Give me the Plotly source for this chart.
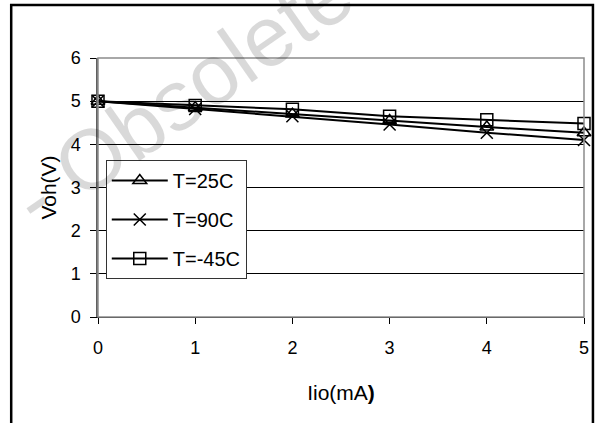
import plotly.graph_objects as go

# --- data ---
iio_ma = [0, 1, 2, 3, 4, 5]
voh_25c = [5.0, 4.85, 4.70, 4.55, 4.40, 4.27]
voh_90c = [5.0, 4.82, 4.65, 4.46, 4.27, 4.10]
voh_m45c = [5.0, 4.90, 4.81, 4.65, 4.57, 4.48]

series_names = ["T=25C", "T=90C", "T=-45C"]
series_symbols = ["triangle-up-open", "x-thin-open", "square-open"]
y_ticks = [0, 1, 2, 3, 4, 5, 6]
x_ticks = [0, 1, 2, 3, 4, 5]

FONT = "Liberation Sans, Arial, sans-serif"

fig = go.Figure()
for name, ys, sym in zip(series_names, [voh_25c, voh_90c, voh_m45c], series_symbols):
    fig.add_trace(go.Scatter(
        x=iio_ma, y=ys, name=name, mode="lines+markers",
        legendgroup=name,
        line=dict(color="black", width=2),
        marker=dict(symbol=sym, size=12, color="black",
                    line=dict(color="black", width=1.5)),
        cliponaxis=False,
    ))

fig.update_layout(
    width=601, height=423,
    margin=dict(l=98, r=13, t=58, b=106),
    paper_bgcolor="white",
    plot_bgcolor="rgba(0,0,0,0)",
    font=dict(family=FONT, size=18, color="black"),
    showlegend=True,
    legend=dict(
        x=0.016, y=0.606, xanchor="left", yanchor="top",
        bgcolor="white", bordercolor="#333333", borderwidth=1,
        font=dict(size=20), itemwidth=56, tracegroupgap=10,
    ),
    xaxis=dict(
        range=[0, 5], tickvals=x_ticks, showgrid=False, zeroline=False,
        showline=True, linecolor="black", linewidth=1,
        ticks="outside", ticklen=6, tickcolor="black",
        ticklabelstandoff=8,
        title=dict(text="Iio(mA<b>)</b>", font=dict(size=21), standoff=28),
    ),
    yaxis=dict(
        range=[0, 6], tickvals=y_ticks, showgrid=True, gridcolor="black",
        gridwidth=1, zeroline=False,
        showline=True, linecolor="#606060", linewidth=1.5,
        ticks="outside", ticklen=6, tickcolor="black",
        ticklabelstandoff=6,
        title=dict(text="Voh(V)", font=dict(size=21), standoff=8),
    ),
)

# plot area frame (gray top/right) and the outer chart border
fig.add_shape(type="rect", xref="paper", yref="paper", x0=0, y0=0, x1=1, y1=1,
              line=dict(color="#8c8c8c", width=1.5), layer="above")
fig.add_shape(type="rect", xref="paper", yref="paper",
              x0=-0.1786, y0=-0.45, x1=1.0184, y1=1.2045,
              line=dict(color="black", width=2.5))

# watermark
fig.add_annotation(
    text="- Obsolete", xref="paper", yref="paper", x=0.172, y=0.855,
    xanchor="center", yanchor="middle",
    showarrow=False, textangle=-35,
    font=dict(family=FONT, size=85, color="rgba(0,0,0,0.15)"),
)

fig.write_html("out.html", config={"displayModeBar": False},
               post_script="document.body.style.margin='0';")
